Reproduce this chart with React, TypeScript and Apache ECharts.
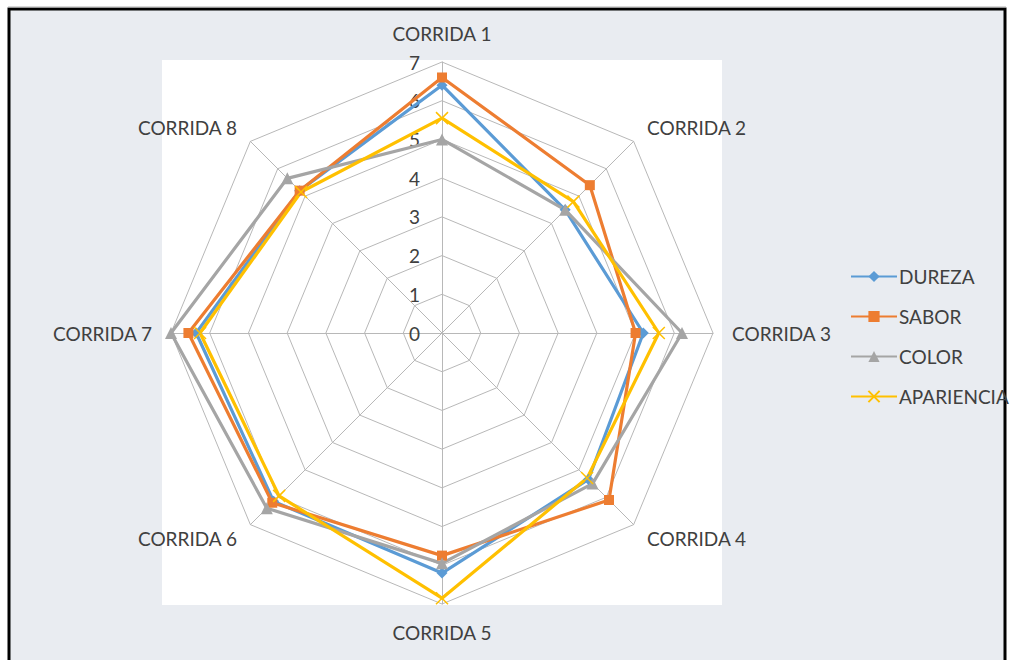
import React, { useEffect, useRef } from "react";
import * as echarts from "echarts";

const corridas = ["CORRIDA 1", "CORRIDA 2", "CORRIDA 3", "CORRIDA 4", "CORRIDA 5", "CORRIDA 6", "CORRIDA 7", "CORRIDA 8"];
const seriesNames = ["DUREZA", "SABOR", "COLOR", "APARIENCIA"];
const dureza = [6.4, 4.5, 5.2, 5.35, 6.2, 6.15, 6.35, 5.2];
const sabor = [6.6, 5.4, 5.0, 6.1, 5.75, 6.2, 6.55, 5.2];
const color = [5.0, 4.5, 6.2, 5.5, 5.95, 6.4, 7.0, 5.65];
const apariencia = [5.55, 4.8, 5.6, 5.3, 6.85, 5.95, 6.25, 5.15];
const tickLabels = ["0", "1", "2", "3", "4", "5", "6", "7"];

const colors = ["#5B9BD5", "#ED7D31", "#A5A5A5", "#FFC000"];
const symbols = ["diamond", "rect", "triangle", "path://M0,0L10,10M10,0L0,10"];
const sizes = [11, 10, 12, 12];
const FONT = "Lato, 'Open Sans', sans-serif";

export default function App() {
  const ref = useRef<HTMLDivElement>(null);
  useEffect(() => {
    if (!ref.current) return;
    const chart = echarts.init(ref.current, null, { renderer: "svg" });
    // ECharts radar runs counter-clockwise; reorder so Corrida 1..8 run clockwise
    const order = [0, 7, 6, 5, 4, 3, 2, 1];
    const all = [dureza, sabor, color, apariencia];
    const radarSeries = all.map((arr, i) => ({
      type: "radar",
      name: seriesNames[i],
      radarIndex: 0,
      z: 3,
      symbol: symbols[i],
      symbolSize: sizes[i],
      lineStyle: { color: colors[i], width: 3.2 },
      itemStyle: { color: colors[i], borderColor: colors[i], borderWidth: i === 3 ? 1.5 : 0 },
      data: [{ name: seriesNames[i], value: order.map((k) => arr[k]) }],
    }));
    const legendSeries = seriesNames.map((n, i) => ({
      type: "line",
      name: n,
      data: [],
      symbol: symbols[i],
      symbolSize: sizes[i],
      lineStyle: { color: colors[i], width: 3 },
      itemStyle: { color: colors[i], borderColor: colors[i], borderWidth: i === 3 ? 1.5 : 0 },
    }));
    chart.setOption({
      animation: false,
      backgroundColor: "#ffffff",
      textStyle: { fontFamily: FONT },
      graphic: [
        { type: "rect", z: -10, shape: { x: 9, y: 9, width: 996, height: 660 }, style: { fill: "#e9ecf1", stroke: "#000", lineWidth: 3 } },
        { type: "line", z: -10, shape: { x1: 8, y1: 7, x2: 1006, y2: 7 }, style: { stroke: "#b0b0b0", lineWidth: 1 } },
        { type: "rect", z: -9, shape: { x: 162, y: 60, width: 560, height: 545 }, style: { fill: "#ffffff" } },
      ],
      grid: { left: 0, top: 0, width: 1, height: 1, show: false },
      xAxis: { show: false, type: "category", data: [] },
      yAxis: { show: false, type: "value" },
      legend: {
        orient: "vertical",
        left: 845,
        top: 262,
        itemWidth: 46,
        itemHeight: 14,
        itemGap: 21,
        data: seriesNames,
        textStyle: { fontSize: 19, color: "#404040", fontFamily: FONT, padding: [0, 0, 0, -3] },
      },
      polar: { center: [442, 333], radius: 271 },
      angleAxis: { show: false, type: "value", min: 0, max: 360, startAngle: 90 },
      radiusAxis: {
        type: "value",
        min: 0,
        max: 7,
        interval: 1,
        axisLine: { show: false },
        axisTick: { show: false },
        splitLine: { show: false },
        axisLabel: { color: "#404040", fontSize: 19, margin: 22, fontFamily: FONT, formatter: (v: number) => tickLabels[v] ?? "" },
      },
      radar: {
        center: [442, 333],
        radius: 271,
        startAngle: 90,
        shape: "polygon",
        splitNumber: 7,
        nameGap: 19,
        axisName: { color: "#404040", fontSize: 19, fontFamily: FONT },
        indicator: order.map((k) => ({ name: corridas[k], min: 0, max: 7 })),
        axisLine: { lineStyle: { color: "#b8b8b8", width: 1 } },
        splitLine: { lineStyle: { color: "#b8b8b8", width: 1 } },
        splitArea: { show: false },
        axisTick: { show: false },
        axisLabel: { show: false },
      },
      series: [...legendSeries, ...radarSeries],
    });
    return () => chart.dispose();
  }, []);
  return <div ref={ref} style={{ position: "fixed", left: 0, top: 0, width: 1012, height: 660 }} />;
}
